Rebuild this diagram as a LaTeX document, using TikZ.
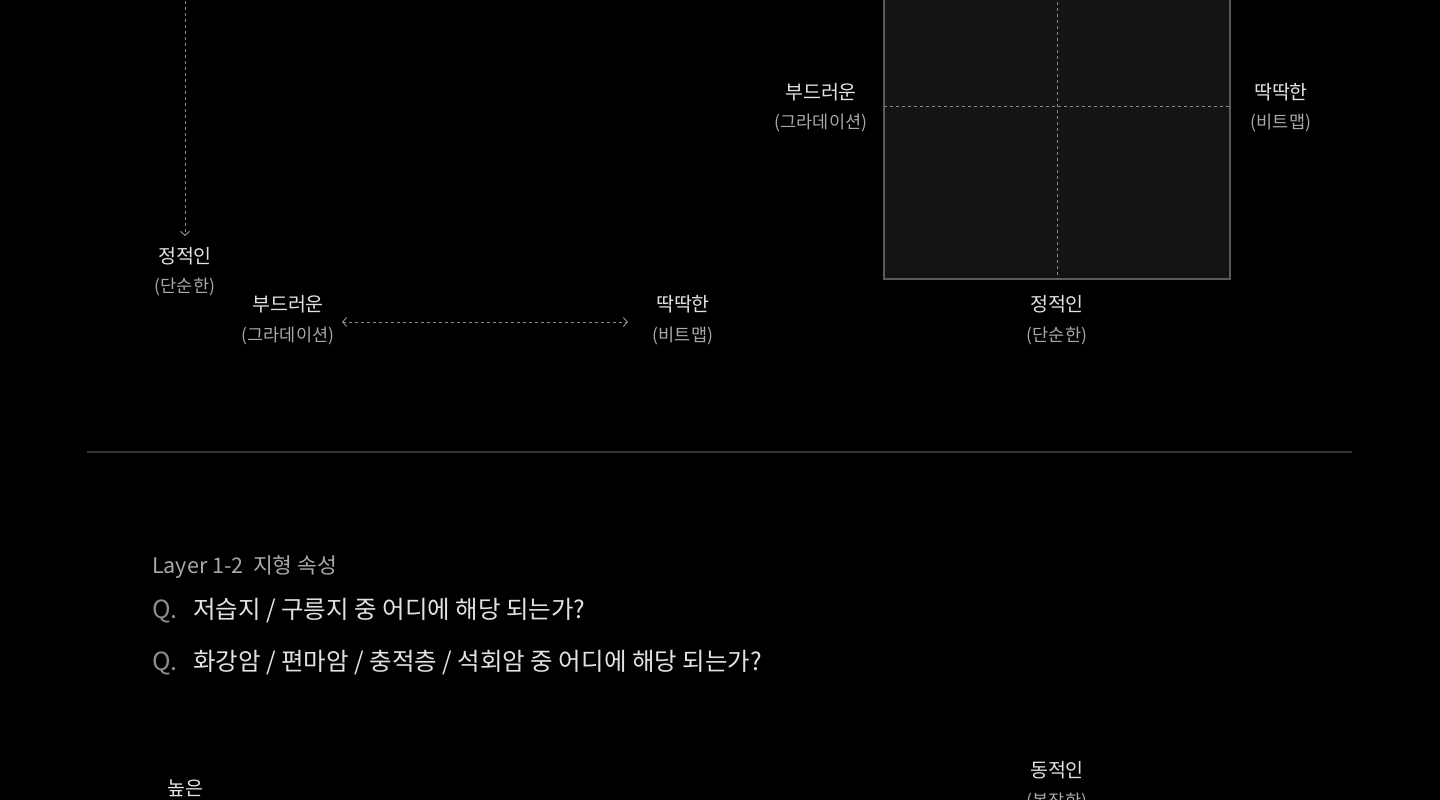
\documentclass[tikz,border=0pt]{standalone}
\usepackage{fontspec}
\setmainfont{Noto Sans CJK KR}
\usetikzlibrary{arrows.meta}
\definecolor{lbl}{HTML}{E2E2E2}
\definecolor{sub}{HTML}{A8A8A8}
\definecolor{dashc}{HTML}{8A8A8A}
\definecolor{boxfill}{HTML}{141414}
\definecolor{boxline}{HTML}{5A5A5A}
\definecolor{sep}{HTML}{333333}
\definecolor{qc}{HTML}{8C8C8C}
\tikzset{
  mainlbl/.style={text=lbl, font=\fontsize{19.5}{21}\selectfont, inner sep=0pt, anchor=center},
  sublbl/.style={text=sub, font=\fontsize{17.5}{19}\selectfont, inner sep=0pt, anchor=center},
  dashconn/.style={draw=dashc, line width=1pt, dash pattern=on 3pt off 3pt},
  chev/.style={-{Straight Barb[length=4pt,width=9pt,line width=1pt]}},
  chevb/.style={{Straight Barb[length=4pt,width=9pt,line width=1pt]}-{Straight Barb[length=4pt,width=9pt,line width=1pt]}},
  qmark/.style={text=qc, font=\fontsize{25}{27}\selectfont, inner sep=0pt, anchor=west},
  qtext/.style={text=lbl, font=\fontsize{24.5}{27}\selectfont, inner sep=0pt, anchor=west},
}
\begin{document}
\begin{tikzpicture}[x=1pt,y=-1pt]
\fill[black] (0,0) rectangle (1440,800);
\useasboundingbox (0,0) rectangle (1440,800);

% left vertical axis
\coordinate (vtop) at (185,-5);
\node[mainlbl] (st1) at (185,256) {정적인};
\node[sublbl] (st1s) at (185,287) {(단순한)};
\coordinate (vend) at (185,236);
\draw[dashconn,chev] (vtop) -- (vend);

% left horizontal axis
\node[mainlbl] (soft1) at (288,304) {부드러운};
\node[sublbl] (soft1s) at (288,336) {(그라데이션)};
\node[mainlbl] (hard1) at (683,304) {딱딱한};
\node[sublbl] (hard1s) at (683,336) {(비트맵)};
\coordinate (hl) at (342,322);
\coordinate (hr) at (628,322);
\draw[dashconn,chevb] (hl) -- (hr);

% right box
\draw[fill=boxfill, draw=boxline, line width=1.2pt] (884,-10) rectangle (1230,279);
\draw[dashconn, line width=0.9pt] (1057,-10) -- (1057,279);
\draw[dashconn, line width=0.9pt] (884,106) -- (1230,106);
\node[mainlbl] (soft2) at (821,92) {부드러운};
\node[sublbl] (soft2s) at (821,123) {(그라데이션)};
\node[mainlbl] (hard2) at (1281,92) {딱딱한};
\node[sublbl] (hard2s) at (1281,123) {(비트맵)};
\node[mainlbl] (st2) at (1057,304) {정적인};
\node[sublbl] (st2s) at (1057,336) {(단순한)};

% separator
\draw[sep, line width=2pt] (87,452) -- (1352,452);

% layer title
\node[text=sub, font=\fontsize{21.5}{23}\selectfont, inner sep=0pt, anchor=west] (layer) at (152,567) {Layer 1-2\ \ 지형 속성};
\node[qmark] (q1) at (152,611) {Q.};
\node[qtext] (q1t) at (193,611) {저습지 / 구릉지 중 어디에 해당 되는가?};
\node[qmark] (q2) at (152,663) {Q.};
\node[qtext] (q2t) at (193,663) {화강암 / 편마암 / 충적층 / 석회암 중 어디에 해당 되는가?};

% bottom (cut off)
\node[mainlbl] (high) at (185,788) {높은};
\node[mainlbl] (dyn) at (1057,770) {동적인};
\node[sublbl] (dyns) at (1057,802) {(복잡한)};
\end{tikzpicture}
\end{document}
